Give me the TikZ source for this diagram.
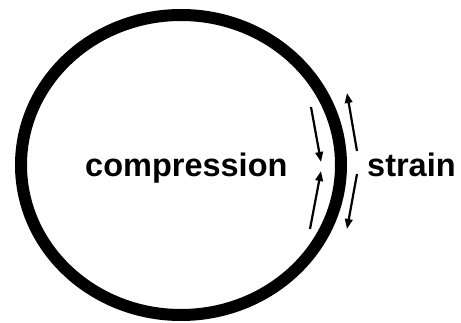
\documentclass[tikz,border=0pt]{standalone}
\usepackage{fontspec}
\setmainfont{Liberation Sans}
\usetikzlibrary{arrows.meta}
\begin{document}
\begin{tikzpicture}[x=1pt,y=-1pt,
  lbl/.style={font=\fontsize{32.5}{36}\selectfont\bfseries, inner sep=0pt, anchor=base west},
  force/.style={line width=2.2pt, -{Triangle[length=10pt,width=7.5pt]}}]
\useasboundingbox (0,0) rectangle (461,323);
\draw[line width=12pt] (181,165) ellipse [x radius=160, y radius=150];
\node[lbl] (comp) at (85,177) {compression};
\node[lbl] (strain) at (367,177) {strain};
\coordinate (a1s) at (311,107); \coordinate (a1e) at (321,162);
\coordinate (a2s) at (310,229); \coordinate (a2e) at (321,171);
\coordinate (a3s) at (357,151); \coordinate (a3e) at (347,93);
\coordinate (a4s) at (357,174); \coordinate (a4e) at (347,229);
\draw[force] (a1s) -- (a1e);
\draw[force] (a2s) -- (a2e);
\draw[force] (a3s) -- (a3e);
\draw[force] (a4s) -- (a4e);
\end{tikzpicture}
\end{document}
